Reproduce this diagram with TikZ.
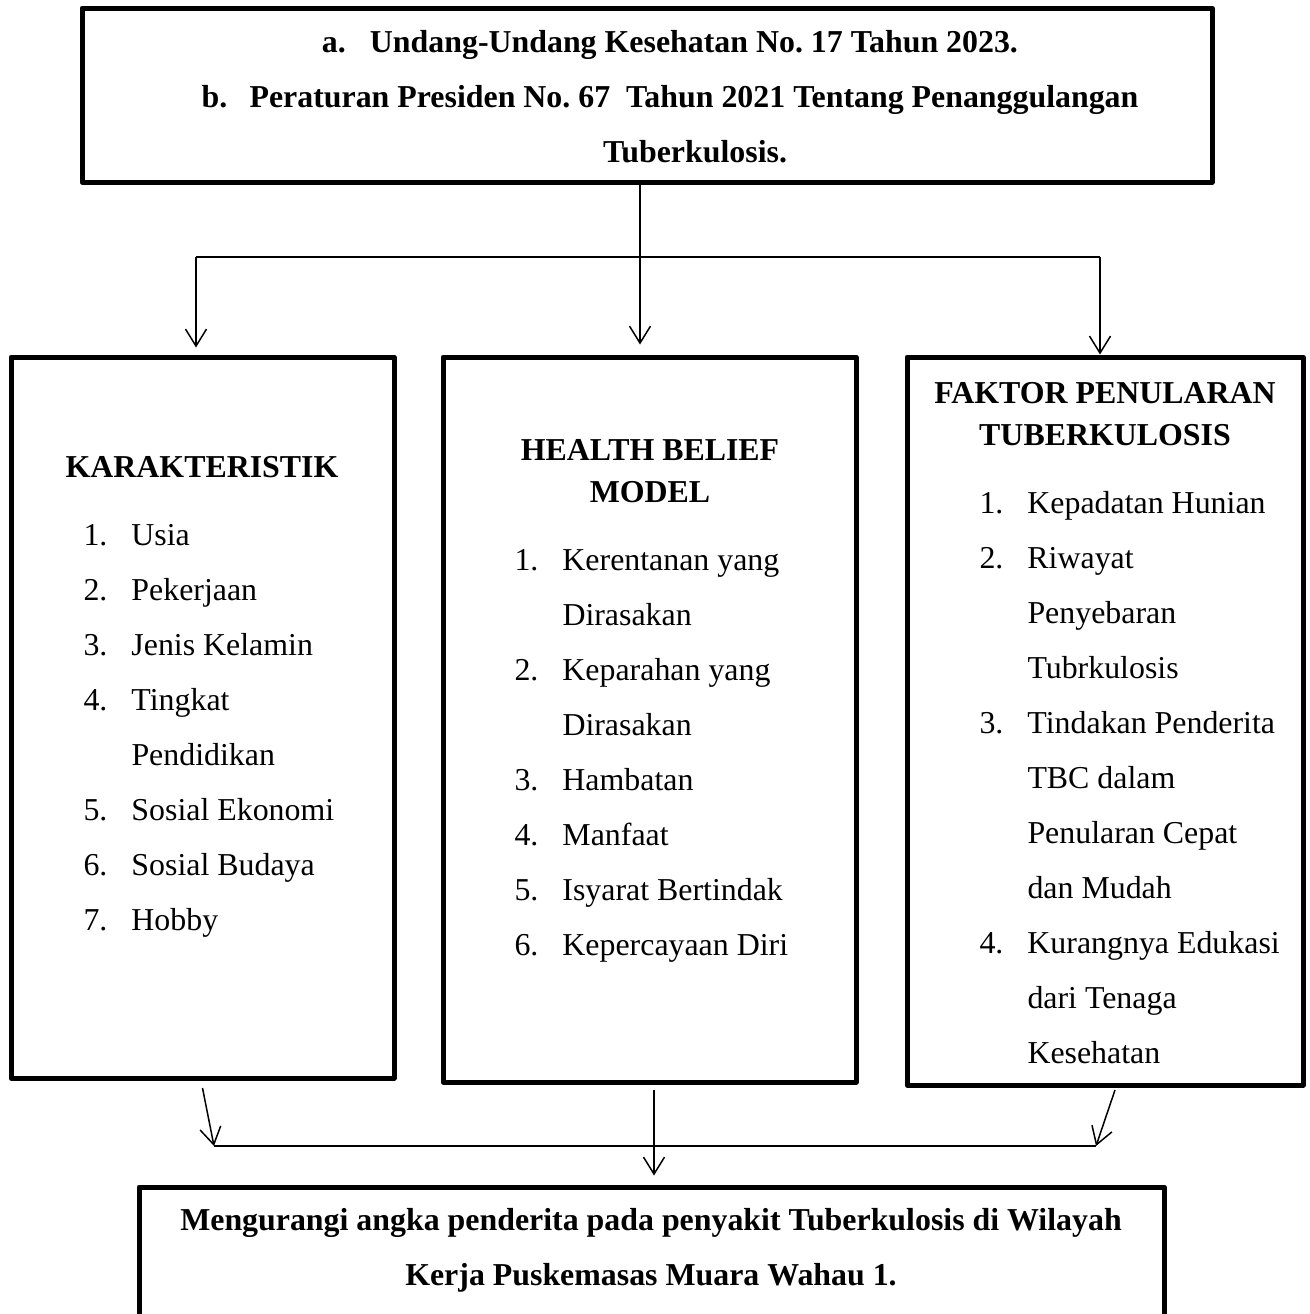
\documentclass[tikz,border=0pt]{standalone}
\usepackage{fontspec}
\setmainfont{Liberation Serif}
\frenchspacing
\usetikzlibrary{arrows.meta,
                fit}
\tikzset{box/.style=
   {rectangle,
    draw,
    line width=2pt,
    line join=round,
    inner sep=0pt}}
\tikzset{arrow/.style = {draw, line width=0.6pt, -{Straight Barb[length=6.8pt,width=8.4pt]}}}
\tikzset{line/.style = {draw, line width=0.6pt}}
\tikzset{listtext/.style = {inner sep=0pt, font=\fontsize{12.75}{22}\selectfont}}
\tikzset{headtext/.style = {inner sep=0pt, font=\fontsize{12.75}{16.8}\selectfont\bfseries}}

\newcommand{\itm}[1]{\makebox[19.2pt][l]{#1}}

\begin{document}
\begin{tikzpicture}[x=0.4pt, y=-0.4pt]

    \clip (0,0) rectangle (1310,1314);

    % Blocks
    \node [box, fit={(82,8) (1212,182)}] (law) {};
    \node [box, fit={(11,357) (394,1078)}] (kar) {};
    \node [box, fit={(443,357) (856,1082)}] (hbm) {};
    \node [box, fit={(907,357) (1303,1085)}] (fak) {};
    \node [box, fit={(139,1187) (1164,1360)}] (goal) {};

    % Texts
    \node [listtext, font=\fontsize{12.75}{22}\selectfont\bfseries, anchor=base] (lawtext) at (670,52)
    {\begin{tabular}[t]{@{}c@{}}
      \itm{a.}Undang-Undang Kesehatan No. 17 Tahun 2023.\\
      \itm{b.}Peraturan Presiden No. 67~~Tahun 2021 Tentang Penanggulangan\\
      \hspace*{20pt}Tuberkulosis.
    \end{tabular}};

    \node [headtext, anchor=base] (karhead) at (202,477) {KARAKTERISTIK};
    \node [listtext, anchor=base west] (karlist) at (83,545)
    {\begin{tabular}[t]{@{}l@{}}
      \itm{1.}Usia\\
      \itm{2.}Pekerjaan\\
      \itm{3.}Jenis Kelamin\\
      \itm{4.}Tingkat\\
      \itm{}Pendidikan\\
      \itm{5.}Sosial Ekonomi\\
      \itm{6.}Sosial Budaya\\
      \itm{7.}Hobby
    \end{tabular}};

    \node [headtext, anchor=base] (hbmhead) at (650,460)
    {\begin{tabular}[t]{@{}c@{}}HEALTH BELIEF\\ MODEL\end{tabular}};
    \node [listtext, anchor=base west] (hbmlist) at (514,570)
    {\begin{tabular}[t]{@{}l@{}}
      \itm{1.}Kerentanan yang\\
      \itm{}Dirasakan\\
      \itm{2.}Keparahan yang\\
      \itm{}Dirasakan\\
      \itm{3.}Hambatan\\
      \itm{4.}Manfaat\\
      \itm{5.}Isyarat Bertindak\\
      \itm{6.}Kepercayaan Diri
    \end{tabular}};

    \node [headtext, anchor=base] (fakhead) at (1105,403)
    {\begin{tabular}[t]{@{}c@{}}FAKTOR PENULARAN\\ TUBERKULOSIS\end{tabular}};
    \node [listtext, anchor=base west] (faklist) at (979,513)
    {\begin{tabular}[t]{@{}l@{}}
      \itm{1.}Kepadatan Hunian\\
      \itm{2.}Riwayat\\
      \itm{}Penyebaran\\
      \itm{}Tubrkulosis\\
      \itm{3.}Tindakan Penderita\\
      \itm{}TBC dalam\\
      \itm{}Penularan Cepat\\
      \itm{}dan Mudah\\
      \itm{4.}Kurangnya Edukasi\\
      \itm{}dari Tenaga\\
      \itm{}Kesehatan
    \end{tabular}};

    \node [listtext, font=\fontsize{12.75}{22}\selectfont\bfseries, anchor=base] (goaltext) at (651,1230)
    {\begin{tabular}[t]{@{}c@{}}
      Mengurangi angka penderita pada penyakit Tuberkulosis di Wilayah\\
      Kerja Puskemasas Muara Wahau 1.
    \end{tabular}};

    % Draw edges
    % Split
    \coordinate (split) at (640,257);
    \coordinate (tl) at (196,257);
    \coordinate (tr) at (1100,257);
    \path [arrow, shorten >=4pt] (law.south -| split) -- (split |- hbm.north);
    \path [line] (tl) -- (tr);
    \path [arrow, shorten >=2.8pt] (tl) -- (tl |- kar.north);
    \path [arrow] (tr) -- (tr |- fak.north);

    % Join
    \coordinate (jl) at (214,1146);
    \coordinate (jr) at (1096,1146);
    \path [arrow] ([yshift=-3pt] kar.south) -- (jl);
    \path [arrow] ([xshift=4pt, yshift=-1pt] fak.south) -- (jr);
    \path [line] (jl) -- (jr);
    \path [arrow, shorten >=3.6pt] ([xshift=1.8pt, yshift=-2pt] hbm.south) -- ([xshift=1.8pt] hbm.south |- goal.north);

\end{tikzpicture}
\end{document}
